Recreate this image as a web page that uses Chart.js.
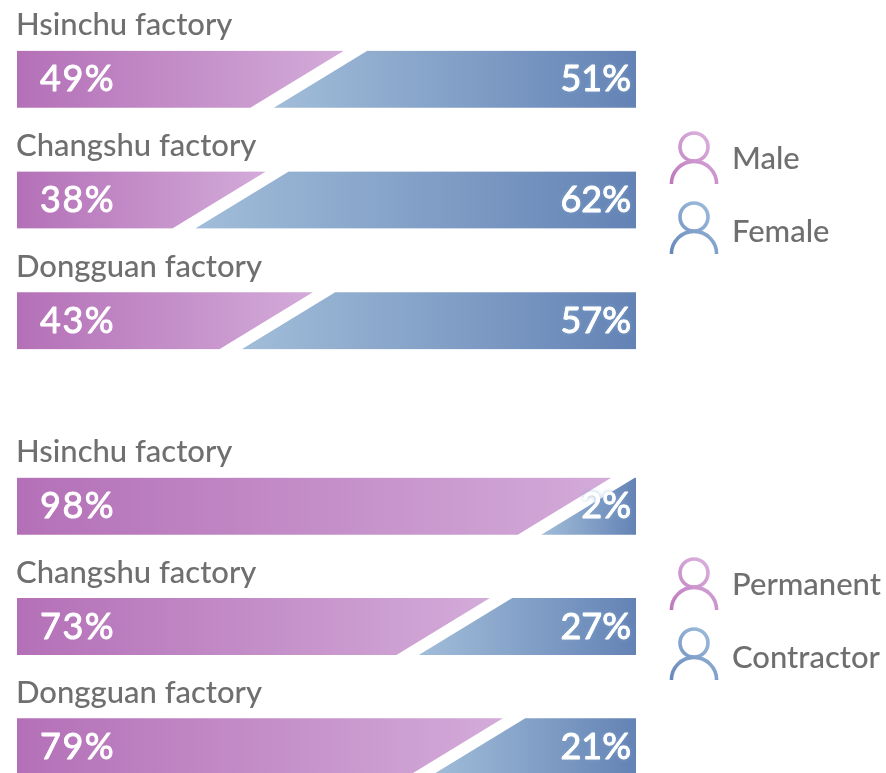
<!DOCTYPE html>
<html>
<head>
<meta charset="utf-8">
<script src="https://cdn.jsdelivr.net/npm/chart.js@4"></script>
<style>
html,body{margin:0;padding:0;background:#fff;overflow:hidden;width:886px;height:773px}
canvas{position:absolute;left:0}
</style>
</head>
<body>
<canvas id="top" width="886" height="400" style="top:0"></canvas>
<canvas id="bottom" width="886" height="420" style="top:400px"></canvas>
<script>
// Categories
const factories = ['Hsinchu factory', 'Changshu factory', 'Dongguan factory'];

// Printed percentages
const malePct = [49, 38, 43];
const femalePct = [51, 62, 57];
const permanentPct = [98, 73, 79];
const contractorPct = [2, 27, 21];

// Bar extents (axis 0-100): the drawn shapes are not
// proportional to the printed percentages, so they are kept separately.
const maleBarEnd = [52.8, 40.2, 47.8];
const femaleBarStart = [41.5, 28.8, 36.3];
const permanentBarEnd = [96.0, 76.4, 78.5];
const contractorBarStart = [84.7, 64.9, 67.0];

const legendTop = ['Male', 'Female'];
const legendBottom = ['Permanent', 'Contractor'];

const FONT = 'Lato, "Open Sans", sans-serif';
const PINK = ['#b470b7', '#d3abd9'];
const BLUE = ['#a1bdd9', '#6483b5'];
const SLANT_RUN = 93.5;

function grad(ctx, x0, x1, stops) {
  const g = ctx.createLinearGradient(x0, 0, x1, 0);
  g.addColorStop(0, stops[0]);
  g.addColorStop(1, stops[1]);
  return g;
}

function barFill(stops) {
  return (c) => {
    const s = c.chart.scales.x;
    if (!s || !Array.isArray(c.raw)) return stops[0];
    const x0 = s.getPixelForValue(c.raw[0]), x1 = s.getPixelForValue(c.raw[1]);
    if (!Number.isFinite(x0) || !Number.isFinite(x1)) return stops[0];
    return grad(c.chart.ctx, x0, x1, stops);
  };
}

const slantPlugin = {
  id: 'slant',
  beforeDatasetDraw(chart, args) {
    const ctx = chart.ctx;
    ctx.save();
    ctx.beginPath();
    args.meta.data.forEach((el) => {
      const top = el.y - el.height / 2, bot = el.y + el.height / 2;
      if (args.index === 0) {
        ctx.moveTo(el.base, top); ctx.lineTo(el.x, top);
        ctx.lineTo(el.x - SLANT_RUN, bot); ctx.lineTo(el.base, bot);
      } else {
        ctx.moveTo(el.base + SLANT_RUN, top); ctx.lineTo(el.x, top);
        ctx.lineTo(el.x, bot); ctx.lineTo(el.base, bot);
      }
      ctx.closePath();
    });
    ctx.clip();
  },
  afterDatasetDraw(chart) { chart.ctx.restore(); }
};

function person(ctx, cx, cy, stops) {
  const g = ctx.createLinearGradient(cx - 24, cy + 36, cx + 18, cy - 16);
  g.addColorStop(0, stops[1]);
  g.addColorStop(1, stops[0]);
  ctx.save();
  ctx.strokeStyle = g;
  ctx.lineWidth = 3.6;
  ctx.beginPath();
  ctx.arc(cx, cy, 14, 0, Math.PI * 2);
  ctx.stroke();
  ctx.beginPath();
  ctx.arc(cx, cy + 37, 22.6, Math.PI, 0);
  ctx.stroke();
  ctx.restore();
}

function textPlugin(leftPct, rightPct, legend, legendY) {
  return {
    id: 'texts',
    afterDatasetsDraw(chart) {
      const ctx = chart.ctx, sx = chart.scales.x, sy = chart.scales.y;
      ctx.save();
      ctx.textBaseline = 'alphabetic';
      ctx.lineJoin = 'round';
      factories.forEach((name, i) => {
        const y = sy.getPixelForValue(i);
        ctx.shadowBlur = 0;
        ctx.letterSpacing = '0px';
        ctx.font = '500 31px ' + FONT;
        ctx.fillStyle = '#6f6f6f';
        ctx.textAlign = 'left';
        ctx.fillText(name, sx.left - 1, y - 44);
        ctx.font = '400 36px ' + FONT;
        ctx.letterSpacing = '1.5px';
        ctx.fillStyle = '#ffffff';
        ctx.strokeStyle = '#ffffff';
        ctx.lineWidth = 0.9;
        ctx.fillText(leftPct[i] + '%', sx.left + 23, y + 12);
        ctx.strokeText(leftPct[i] + '%', sx.left + 23, y + 12);
        ctx.textAlign = 'right';
        ctx.letterSpacing = '0px';
        ctx.shadowColor = '#7fa5cc';
        ctx.shadowBlur = 4;
        ctx.fillText(rightPct[i] + '%', sx.right - 5, y + 12);
        ctx.shadowBlur = 0;
        ctx.fillText(rightPct[i] + '%', sx.right - 5, y + 12);
        ctx.strokeText(rightPct[i] + '%', sx.right - 5, y + 12);
      });
      ctx.textAlign = 'left';
      ctx.font = '500 31px ' + FONT;
      ctx.fillStyle = '#6f6f6f';
      legend.forEach((t, i) => {
        const cy = legendY + i * 70;
        person(ctx, 694, cy, i === 0 ? ['#dcb4df', '#bd78bd'] : ['#9fbedd', '#6788bb']);
        ctx.fillText(t, 732, cy + 22 + i * 3);
      });
      ctx.restore();
    }
  };
}

function build(id, barEnd, barStart, leftPct, rightPct, legend, legendY, padTop, padBottom) {
  new Chart(document.getElementById(id), {
    type: 'bar',
    data: {
      labels: factories,
      datasets: [
        { label: legend[0], data: barEnd.map((v) => [0, v]), backgroundColor: barFill(PINK), barThickness: 57, grouped: false, order: 1 },
        { label: legend[1], data: barStart.map((v) => [v, 100]), backgroundColor: barFill(BLUE), barThickness: 57, grouped: false, order: 2 }
      ]
    },
    options: {
      indexAxis: 'y',
      responsive: false,
      animation: false,
      layout: { padding: { left: 17, right: 250, top: padTop, bottom: padBottom } },
      scales: {
        x: { display: false, min: 0, max: 100 },
        y: { display: false }
      },
      plugins: { legend: { display: false }, tooltip: { enabled: false } }
    },
    plugins: [slantPlugin, textPlugin(leftPct, rightPct, legend, legendY)]
  });
}

build('top', maleBarEnd, femaleBarStart, malePct, femalePct, legendTop, 147, 19, 19);
build('bottom', permanentBarEnd, contractorBarStart, permanentPct, contractorPct, legendBottom, 173, 46, 13);
</script>
</body>
</html>
